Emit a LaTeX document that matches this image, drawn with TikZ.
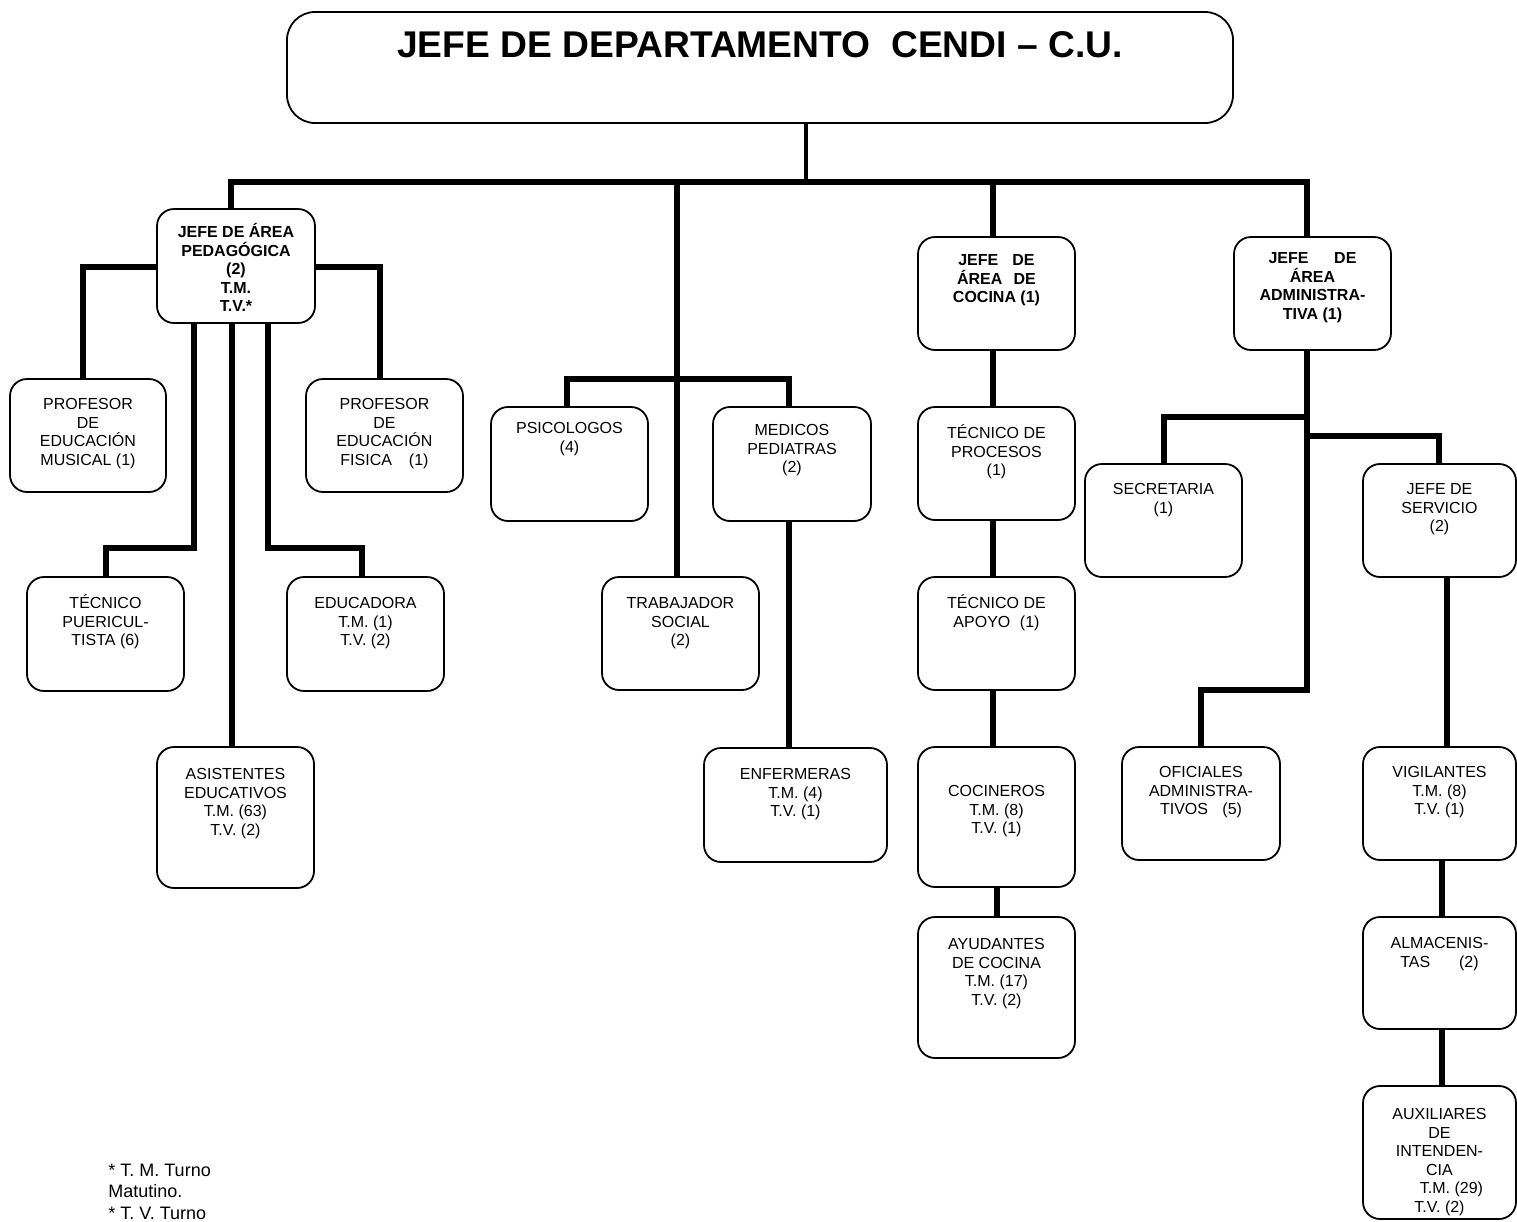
\documentclass[tikz,border=0pt]{standalone}
\usepackage{fontspec}
\setmainfont{Liberation Sans}
\begin{document}
\begin{tikzpicture}[x=0.5pt,y=-0.5pt,
  box/.style={draw,line width=0.9pt,rounded corners=8.5pt,inner sep=0pt,outer sep=0pt},
  txt/.style={inner sep=0pt,align=center,font=\fontsize{8pt}{9.3pt}\selectfont},
  conn/.style={line width=2.7pt,line join=miter},
  bus/.style={line width=3pt,line join=miter},
  topconn/.style={line width=2pt}]
\useasboundingbox (0,0) rectangle (1517,1222);
\newcommand\obox[7]{%
  \node[box,minimum width={(#4-#2)*0.5pt},minimum height={(#5-#3)*0.5pt}] (#1) at ({(#2+#4)/2},{(#3+#5)/2}) {};
  \node[txt,anchor=north] (#1t) at ({(#2+#4)/2},{#6-10}) {\rule{0pt}{8pt}#7};}
% top box
\node[box,rounded corners=14pt,minimum width={(1233-287)*0.5pt},minimum height={(123-12)*0.5pt}] (top) at ({(287+1233)/2},{(12+123)/2}) {};
\node[inner sep=0pt,anchor=base,font=\bfseries\fontsize{18.6pt}{22pt}\selectfont] (title) at (760,57) {JEFE DE DEPARTAMENTO\ \ CENDI – C.U.};
% boxes
\obox{ped}{157}{209}{315}{323}{231}{\bfseries JEFE DE ÁREA\\\bfseries PEDAGÓGICA\\\bfseries (2)\\\bfseries T.M.\\\bfseries T.V.*}
\obox{mus}{10}{379}{166}{492}{403}{PROFESOR\\DE\\EDUCACIÓN\\MUSICAL (1)}
\obox{fis}{306}{379}{463}{492}{403}{PROFESOR\\DE\\EDUCACIÓN\\FISICA\hspace{1.06em}(1)}
\obox{tec}{27}{577}{184}{691}{602}{TÉCNICO\\PUERICUL-\\TISTA (6)}
\obox{edu}{287}{577}{444}{691}{602}{EDUCADORA\\T.M. (1)\\T.V. (2)}
\obox{asi}{157}{747}{314}{888}{773}{ASISTENTES\\EDUCATIVOS\\T.M. (63)\\T.V. (2)}
\obox{psi}{491}{407}{648}{521}{427}{PSICOLOGOS\\(4)}
\obox{med}{713}{407}{871}{521}{429}{MEDICOS\\PEDIATRAS\\(2)}
\obox{tra}{602}{577}{759}{690}{602}{TRABAJADOR\\SOCIAL\\(2)}
\obox{enf}{704}{748}{887}{862}{773}{ENFERMERAS\\T.M. (4)\\T.V. (1)}
\obox{coc}{918}{237}{1075}{350}{259}{\bfseries JEFE\hspace{0.88em}DE\\\bfseries ÁREA\hspace{0.7em}DE\\\bfseries COCINA (1)}
\obox{pro}{918}{407}{1075}{520}{432}{TÉCNICO DE\\PROCESOS\\(1)}
\obox{apo}{918}{577}{1075}{690}{602}{TÉCNICO DE\\APOYO\hspace{0.6em}(1)}
\obox{cin}{918}{747}{1075}{887}{790}{COCINEROS\\T.M. (8)\\T.V. (1)}
\obox{ayu}{918}{917}{1075}{1058}{943}{AYUDANTES\\DE COCINA\\T.M. (17)\\T.V. (2)}
\obox{adm}{1234}{237}{1391}{350}{257}{\bfseries JEFE\hspace{1.6em}DE\\\bfseries ÁREA\\\bfseries ADMINISTRA-\\\bfseries TIVA (1)}
\obox{sec}{1085}{464}{1242}{577}{488}{SECRETARIA\\(1)}
\obox{ser}{1363}{464}{1516}{577}{488}{JEFE DE\\SERVICIO\\(2)}
\obox{ofi}{1122}{747}{1280}{860}{771}{OFICIALES\\ADMINISTRA-\\TIVOS\hspace{0.9em}(5)}
\obox{vig}{1363}{747}{1516}{860}{771}{VIGILANTES\\T.M. (8)\\T.V. (1)}
\obox{alm}{1363}{917}{1516}{1029}{942}{ALMACENIS-\\TAS\hspace{1.8em}(2)}
\obox{aux}{1363}{1086}{1516}{1219}{1113}{AUXILIARES\\DE\\INTENDEN-\\CIA\\\hspace*{12pt}T.M. (29)\\T.V. (2)}
% footnote
\node[anchor=north west,align=left,inner sep=0pt,font=\fontsize{9pt}{10.75pt}\selectfont] (note) at (108,1158) {\rule{0pt}{9pt}* T. M. Turno\\Matutino.\\* T. V. Turno};
% coordinates
\coordinate (b0) at (806,182);
\coordinate (bp) at (231,182);
\coordinate (bt) at (677,182);
\coordinate (bc) at (993,182);
\coordinate (ba) at (1307,182);
\coordinate (pl) at (83,267);
\coordinate (pr) at (380,267);
\coordinate (v1) at (194,548);
\coordinate (t1) at (106,548);
\coordinate (v2) at (232,548);
\coordinate (v3) at (268,548);
\coordinate (e1) at (362,548);
\coordinate (ps) at (567,379);
\coordinate (me) at (789,379);
\coordinate (k1) at (993,600);
\coordinate (k2) at (997,900);
\coordinate (a1) at (1307,690);
\coordinate (a2) at (1201,690);
\coordinate (s1) at (1307,417);
\coordinate (s2) at (1164,417);
\coordinate (j1) at (1307,436);
\coordinate (j2) at (1439,436);
\coordinate (g1) at (1447,600);
\coordinate (g2) at (1442,900);
% connectors
\draw[topconn] (b0 |- top.south) -- (b0);
\draw[bus] (bp |- ped.north) -- (bp) -- (ba) -- (ba |- adm.north);
\draw[conn] (bt) -- (bt |- tra.north);
\draw[conn] (bc) -- (bc |- coc.north);
\draw[conn] (ped.west |- pl) -- (pl) -- (pl |- mus.north);
\draw[conn] (ped.east |- pr) -- (pr) -- (pr |- fis.north);
\draw[conn] (v1 |- ped.south) -- (v1) -- (t1) -- (t1 |- tec.north);
\draw[conn] (v2 |- ped.south) -- (v2 |- asi.north);
\draw[conn] (v3 |- ped.south) -- (v3) -- (e1) -- (e1 |- edu.north);
\draw[conn] (ps |- psi.north) -- (ps) -- (me) -- (me |- med.north);
\draw[conn] (me |- med.south) -- (me |- enf.north);
\draw[conn] (k1 |- coc.south) -- (k1 |- pro.north);
\draw[conn] (k1 |- pro.south) -- (k1 |- apo.north);
\draw[conn] (k1 |- apo.south) -- (k1 |- cin.north);
\draw[conn] (k2 |- cin.south) -- (k2 |- ayu.north);
\draw[conn] (a1 |- adm.south) -- (a1) -- (a2) -- (a2 |- ofi.north);
\draw[conn] (s1) -- (s2) -- (s2 |- sec.north);
\draw[conn] (j1) -- (j2) -- (j2 |- ser.north);
\draw[conn] (g1 |- ser.south) -- (g1 |- vig.north);
\draw[conn] (g2 |- vig.south) -- (g2 |- alm.north);
\draw[conn] (g2 |- alm.south) -- (g2 |- aux.north);
\end{tikzpicture}
\end{document}
